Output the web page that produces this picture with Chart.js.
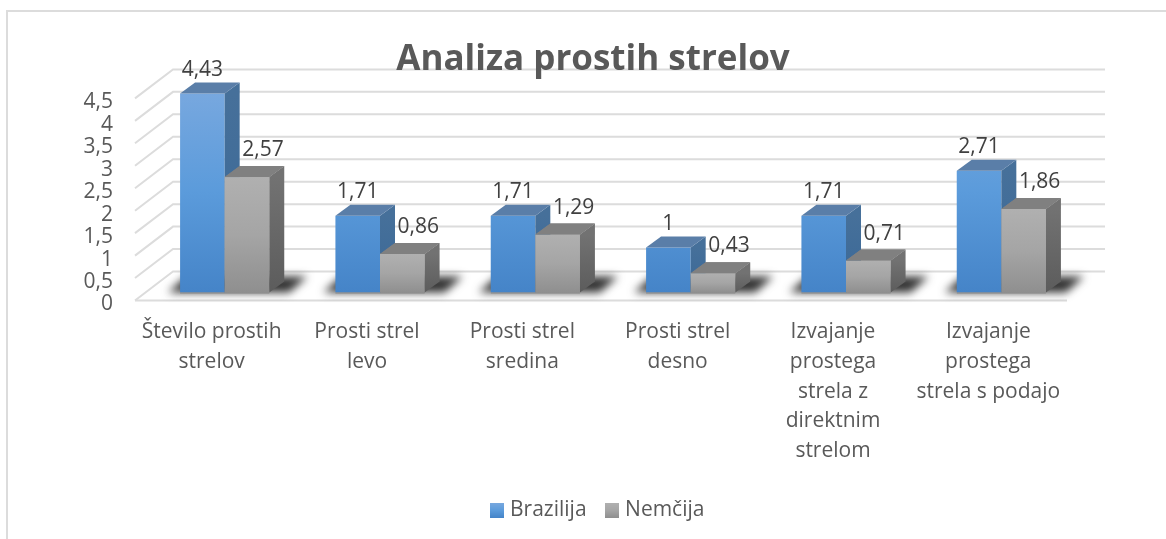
<!DOCTYPE html>
<html><head><meta charset="utf-8">
<style>html,body{margin:0;padding:0;background:#fff}#w{position:relative;width:1166px;height:539px;overflow:hidden}canvas{display:block}</style>
<script src="https://cdn.jsdelivr.net/npm/chart.js@4"></script>
</head><body><div id="w"><canvas id="c" width="1166" height="539"></canvas></div>
<script>
const chartTitle = 'Analiza prostih strelov';
const categories = [
  ['Število prostih','strelov'],
  ['Prosti strel','levo'],
  ['Prosti strel','sredina'],
  ['Prosti strel','desno'],
  ['Izvajanje','prostega','strela z','direktnim','strelom'],
  ['Izvajanje','prostega','strela s podajo']
];
const brazilija = [4.43,1.71,1.71,1,1.71,2.71];
const nemcija = [2.57,0.86,1.29,0.43,0.71,1.86];
const seriesNames = ['Brazilija','Nemčija'];
const FONT = '"Open Sans"';
const TXT = '#595959';

const fmt = v => String(v).replace('.',',');
function grad(ctx, y0, y1, stops){
  const g = ctx.createLinearGradient(0,y0,0,y1);
  stops.forEach((c,i)=>g.addColorStop(i/(stops.length-1),c));
  return g;
}
const blueStops = ['#78a8df','#5b9bdb','#4584c8'];
const grayStops = ['#b0b0b0','#a5a5a5','#8f8f8f'];
const blueSide = ['#46709a','#3a6897'];
const graySide = ['#727272','#5c5c5c'];
const TOP = ['#5a7ea8','#808080'];

const DEPTH = {x:15,y:11};
const BACK = {x:26,y:21};
const FRONT = {x:-12,y:8};

function poly(ctx, pts){ctx.beginPath();pts.forEach((p,i)=>i?ctx.lineTo(p[0],p[1]):ctx.moveTo(p[0],p[1]));ctx.closePath();}
function swatch(stops){
  const cv=document.createElement('canvas');cv.width=14;cv.height=15;
  const k=cv.getContext('2d');k.fillStyle=grad(k,0,15,stops);k.fillRect(0,0,14,15);return cv;
}

const placeBoxes = {id:'placeBoxes',afterLayout(ch){
  const l=ch.legend; l.left+=60; l.right+=60; l.top-=8; l.bottom-=8;
  const t=ch.titleBlock; t.left+=53.5; t.right+=53.5;
}};
const walls = {id:'walls',beforeDraw(ch){
  const c=ch.ctx,y=ch.scales.y,a=ch.chartArea;
  c.save();c.fillStyle='#dcdcdc';
  c.fillRect(6,10,2,529);c.fillRect(6,10,1160,2);
  c.strokeStyle='#dcdcdc';c.lineWidth=2;
  const lx=a.left+FRONT.x, bx=a.left+BACK.x, rx=a.right+BACK.x;
  y.ticks.forEach(t=>{
    const py=y.getPixelForValue(t.value);
    c.beginPath();c.moveTo(lx,py+FRONT.y);c.lineTo(bx,py-BACK.y);c.lineTo(rx,py-BACK.y);c.stroke();
  });
  const p0=y.getPixelForValue(0);
  c.beginPath();c.moveTo(lx,p0+FRONT.y);c.lineTo(a.right+FRONT.x,p0+FRONT.y);c.stroke();
  const m0=ch.getDatasetMeta(0).data, m1=ch.getDatasetMeta(1).data;
  c.filter='blur(4px)';c.fillStyle='#333';
  m0.forEach((b,i)=>{
    const l=b.x-b.width/2, r=m1[i].x+m1[i].width/2;
    poly(c,[[l-12,p0],[r+20,p0],[r+38,p0-16],[l+6,p0-16]]);c.fill();
  });
  c.filter='none';
  c.fillStyle='#8a8a8a';
  m0.forEach((b,i)=>{
    const l=b.x-b.width/2, r=m1[i].x+m1[i].width/2;
    c.fillRect(l,p0,r-l,1);
  });
  c.restore();
}};
const bars3d = {id:'bars3d',afterDatasetsDraw(ch){
  const c=ch.ctx,d=DEPTH;
  c.save();
  [0,1].forEach(ds=>{
    ch.getDatasetMeta(ds).data.forEach(b=>{
      const l=b.x-b.width/2,r=b.x+b.width/2,t=b.y,bo=b.base;
      c.fillStyle=grad(c,t,bo,ds?graySide:blueSide);
      poly(c,[[r,t],[r+d.x,t-d.y],[r+d.x,bo-d.y],[r,bo]]);c.fill();
      c.fillStyle=TOP[ds];
      poly(c,[[l,t],[l+d.x,t-d.y],[r+d.x,t-d.y],[r,t]]);c.fill();
    });
  });
  ch.getDatasetMeta(1).data.forEach(b=>{
    const l=b.x-b.width/2,t=b.y,bo=b.base;
    c.fillStyle=grad(c,t,bo,grayStops);
    c.fillRect(l,t,b.width,bo-t);
    c.fillStyle=TOP[1];
    poly(c,[[l,t],[l+d.x,t-d.y],[l+b.width+d.x,t-d.y],[l+b.width,t]]);c.fill();
  });
  c.font='21px '+FONT;c.fillStyle='#404040';c.textAlign='center';c.textBaseline='middle';
  [0,1].forEach(ds=>{
    ch.getDatasetMeta(ds).data.forEach((b,i)=>{
      const v=ch.data.datasets[ds].data[i];
      c.fillText(fmt(v), b.x+(ds?16:0), b.y+(ds?-27:-24));
    });
  });
  c.restore();
}};

const ctx=document.getElementById('c').getContext('2d');
function fill(stops){return function(context){
  const a=context.chart.chartArea; if(!a) return stops[1];
  const b=context.element;
  const t=(b&&b.y!=null)?b.y:a.top;
  return grad(context.chart.ctx,t,a.bottom,stops);
};}
const swatches=[swatch(blueStops),swatch(grayStops)];
new Chart(ctx,{
  type:'bar',
  data:{labels:categories,datasets:[
    {label:seriesNames[0],data:brazilija,backgroundColor:fill(blueStops)},
    {label:seriesNames[1],data:nemcija,backgroundColor:fill(grayStops)}
  ]},
  plugins:[placeBoxes,walls,bars3d],
  options:{
    responsive:false,animation:false,
    layout:{padding:{top:39,left:0,right:87,bottom:0}},
    datasets:{bar:{categoryPercentage:0.574,barPercentage:1}},
    scales:{
      x:{offset:true,afterFit(s){s.height=192.5;},grid:{display:false,drawTicks:false},border:{display:false},
        ticks:{color:TXT,font:{family:FONT,size:21,lineHeight:1.41},maxRotation:0,autoSkip:false,labelOffset:-13,padding:25}},
      y:{min:0,max:4.5,afterFit(s){s.width=147;},
        grid:{display:false,drawTicks:false},border:{display:false},
        ticks:{stepSize:0.5,autoSkip:false,color:TXT,font:{family:FONT,size:21},labelOffset:12,padding:34,
          callback:v=>fmt(v)}}
    },
    plugins:{
      title:{display:true,text:chartTitle,color:TXT,font:{family:FONT,size:35,weight:'bold',lineHeight:1.2},padding:{top:0,bottom:9.4}},
      tooltip:{enabled:false},
      legend:{position:'bottom',labels:{color:TXT,font:{family:FONT,size:21},usePointStyle:true,pointStyleWidth:5,boxHeight:15,padding:23,
        generateLabels(ch){
          return seriesNames.map((n,i)=>({text:n,pointStyle:swatches[i],fillStyle:'#000',strokeStyle:'transparent',lineWidth:0,fontColor:TXT,datasetIndex:i}));
        }}}
    }
  }
});
</script></body></html>
